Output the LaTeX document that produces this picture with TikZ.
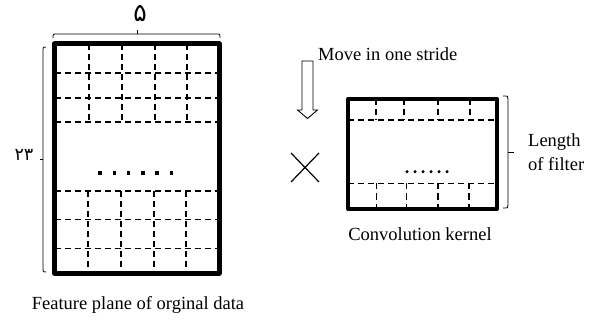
\documentclass[tikz,border=0pt]{standalone}
\usepackage{fontspec}
\setmainfont{Liberation Serif}
\newfontfamily\fafont{DejaVu Sans}
\tikzset{
  thickbox/.style={line width=5pt, line join=round},
  kbox/.style={line width=4pt, line join=round},
  grid/.style={line width=1.5pt, dash pattern=on 6pt off 4pt},
  brace/.style={line width=0.8pt},
  lbl/.style={inner sep=0pt, font=\fontsize{18.5}{24}\selectfont},
}
\begin{document}
\begin{tikzpicture}[x=1pt,y=-1pt]
\useasboundingbox (0,0) rectangle (593,320);
% big feature plane
\coordinate (bigNW) at (54.5,44);
\coordinate (bigSE) at (219,273);
% grid top
\foreach \y in {73,98,122} \draw[grid] (54.5,\y) -- (219,\y);
\foreach \x in {89,122,155,187} \draw[grid] (\x,44) -- (\x,122);
% grid bottom
\foreach \y in {191,219.5,248.5} \draw[grid] (54.5,\y) -- (219,\y);
\foreach \x in {88,121,154,186} \draw[grid] (\x,191) -- (\x,273);
\draw[thickbox] (bigNW) rectangle (bigSE);
% square dots
\foreach \i in {0,...,5} \fill (100+14.3*\i-1.8,173.3-1.8) rectangle ++(3.6,3.6);
% top brace
\draw[brace] (53,38) .. controls (53,34) .. (57,34) -- (216,34) .. controls (220,34) .. (220,38);
\draw[brace] (137,34) -- (137,30);
\node[lbl, font=\fafont\fontsize{25}{28}\selectfont] (five) at (140,14) {۵};
% left brace
\draw[brace] (46,47) .. controls (43,47) .. (43,50) -- (43,269) .. controls (43,272) .. (46,272);
\draw[brace] (43,159.5) -- (40,159.5);
\node[lbl, font=\fafont\fontsize{17.5}{24}\selectfont] (twothree) at (24,155) {۲۳};
\node[lbl, anchor=base] (feat) at (138,309) {Feature plane of orginal data};
% arrow
\draw[line width=0.9pt, line join=miter] (302,61) -- (313,61) -- (313,110) -- (317.5,110) -- (307.5,118.5) -- (297.5,110) -- (302,110) -- cycle;
\node[lbl, anchor=base west] (move) at (318,60.5) {Move in one stride};
% cross
\coordinate (xa) at (291,153);
\coordinate (xb) at (319,182);
\coordinate (xc) at (291,182);
\coordinate (xd) at (319,153);
\draw[line width=1.2pt] (xa) -- (xb) (xc) -- (xd);
% kernel
\coordinate (kNW) at (348,99);
\coordinate (kSE) at (497,209);
\draw[grid] (348,120) -- (497,120);
\foreach \x in {376,404,438,470} \draw[grid] (\x,99) -- (\x,120);
\draw[grid] (348,183.5) -- (497,183.5);
\foreach \x in {376.5,406.5,438,469} \draw[grid] (\x,183.5) -- (\x,209);
\draw[kbox] (kNW) rectangle (kSE);
\foreach \i in {0,...,5} \fill (407+8*\i,171.7) circle (1.7);
\node[lbl, anchor=base] (conv) at (420,240) {Convolution kernel};
% right brace
\draw[brace] (503,96) .. controls (508,96) .. (508,99) -- (508,205) .. controls (508,208) .. (503,208);
\draw[brace] (508,152) -- (514,152);
\node[lbl, anchor=base west] (len) at (528,146.7) {Length};
\node[lbl, anchor=base west] (filt) at (528,170.7) {of filter};
\end{tikzpicture}
\end{document}
